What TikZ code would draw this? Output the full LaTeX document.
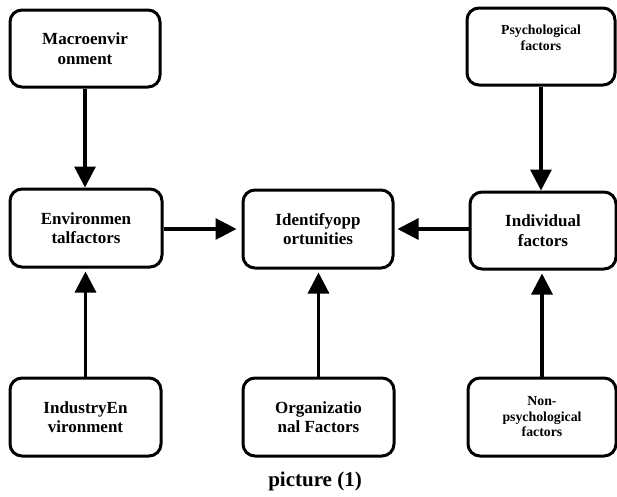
\documentclass[tikz,border=0pt]{standalone}
\usepackage{fontspec}
\setmainfont{Liberation Serif}
\usetikzlibrary{arrows.meta,positioning}

\begin{document}
\begin{tikzpicture}[x=1pt,y=-1pt]
\tikzstyle{every node}+=[inner sep=0pt]
\tikzstyle{box}=[draw, line width=3pt, rounded corners=12pt, align=center,
  minimum width=150pt, minimum height=77pt, font=\fontsize{17}{19.5}\selectfont\bfseries]
\tikzstyle{smallbox}=[box, font=\fontsize{13.8}{15.5}\selectfont\bfseries]
\tikzstyle{link}=[line width=3.2pt, -{Triangle[length=21pt,width=21pt]}]
\useasboundingbox (0,0) rectangle (617,496);
% top row
\node [box] (macro) at (85,48.5) {Macroenvir\\onment};
\node [smallbox, minimum width=148pt] (psych) at (541,46.5) {Psychological\\factors\\[2pt]};
% middle row
\node [box, minimum width=152pt, minimum height=78pt] (env) at (86,228) {Environmen\\talfactors};
\node [box, minimum height=78pt] (ident) at (318,229) {Identifyopp\\ortunities};
\node [box, minimum width=146pt] (indiv) at (543,230.5) {Individual\\factors};
% bottom row
\node [box, minimum width=151pt, minimum height=78pt] (industry) at (85.5,417) {IndustryEn\\vironment};
\node [box, minimum width=151pt, minimum height=78pt] (org) at (318.5,417) {Organizatio\\nal Factors};
\node [smallbox, minimum width=148pt, minimum height=78pt] (nonpsych) at (542,417) {Non-\\psychological\\factors};
\node [font=\fontsize{21}{24}\selectfont\bfseries] (caption) at (315,481) {picture (1)};
% arrows
\draw [link] (macro) -- (macro |- env.north);
\draw [link, shorten >=3pt] (industry) -- (industry |- env.south);
\draw [link, shorten >=3pt] (org) -- (org |- ident.south);
\draw [link] (psych) -- (psych |- indiv.north);
\draw [link, shorten >=3pt] (nonpsych) -- (nonpsych |- indiv.south);
\draw [link, shorten >=5pt] (env.east |- ident) -- (ident.west);
\draw [link, shorten >=3pt] (indiv.west |- ident) -- (ident.east);
\end{tikzpicture}
\end{document}
